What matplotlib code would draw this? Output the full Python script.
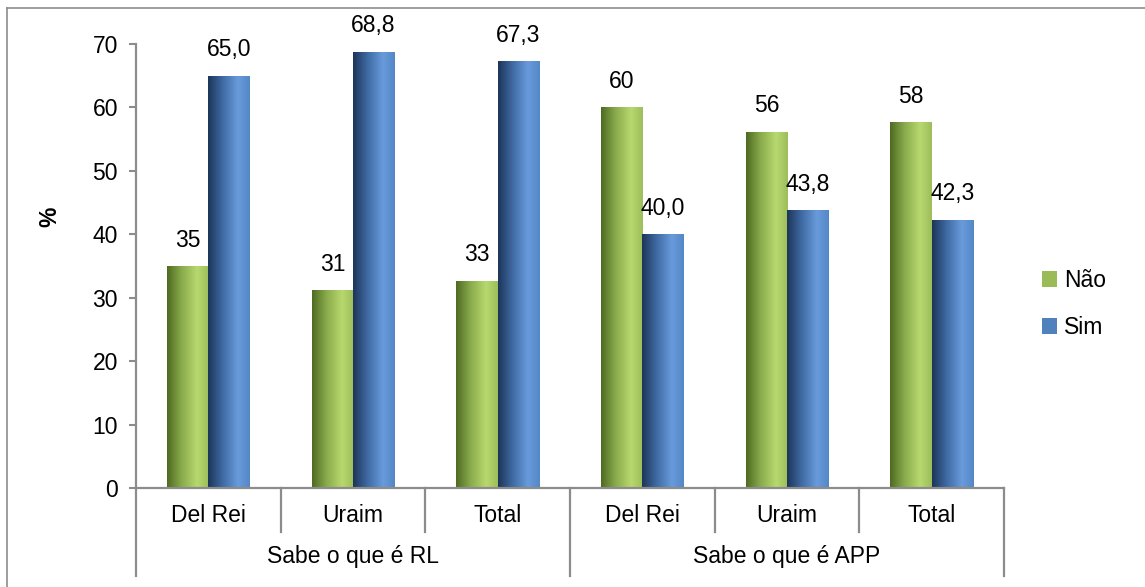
import matplotlib.pyplot as plt
import numpy as np
from matplotlib.colors import LinearSegmentedColormap
from matplotlib.lines import Line2D
from matplotlib.patches import Patch

plt.rcParams["font.family"] = ["Liberation Sans", "DejaVu Sans"]

categories = ["Del Rei", "Uraim", "Total", "Del Rei", "Uraim", "Total"]
groups = ["Sabe o que é RL", "Sabe o que é APP"]
group_sizes = [3, 3]
nao = [35.0, 31.2, 32.7, 60.0, 56.2, 57.7]
sim = [65.0, 68.8, 67.3, 40.0, 43.8, 42.3]
nao_labels = ["35", "31", "33", "60", "56", "58"]
sim_labels = ["65,0", "68,8", "67,3", "40,0", "43,8", "42,3"]

GREEN = "#9bbb59"
BLUE = "#4f81bd"
AXIS_GREY = "#8c8c8c"
FS = 16.5

green_cmap = LinearSegmentedColormap.from_list(
    "g", [(0, "#4e6a22"), (0.35, "#8aab4c"), (0.72, "#b8d86f"), (1, "#9cbd5a")]
)
blue_cmap = LinearSegmentedColormap.from_list(
    "b", [(0, "#1d3558"), (0.35, "#3f6aa3"), (0.72, "#699bdc"), (1, "#5487c6")]
)


def gradient_bars(ax, bars, cmap):
    grad = np.linspace(0, 1, 256).reshape(1, -1)
    for b in bars:
        b.set_facecolor("none")
        x0, y0 = b.get_x(), b.get_y()
        im = ax.imshow(
            grad,
            cmap=cmap,
            aspect="auto",
            extent=[x0, x0 + b.get_width(), y0, y0 + b.get_height()],
            zorder=2,
        )
        im.set_clip_path(b)


fig = plt.figure(figsize=(11.45, 5.87), dpi=100)
ax = fig.add_axes([136 / 1145, 1 - 488 / 587, 868 / 1145, 444 / 587])

x = np.arange(len(categories))
w = 0.285
b1 = ax.bar(x - w / 2, nao, w, color=GREEN, linewidth=0, zorder=2)
b2 = ax.bar(x + w / 2, sim, w, color=BLUE, linewidth=0, zorder=2)
gradient_bars(ax, b1, green_cmap)
gradient_bars(ax, b2, blue_cmap)

for bars, labels in [(b1, nao_labels), (b2, sim_labels)]:
    for b, lab in zip(bars, labels):
        ax.annotate(
            lab,
            (b.get_x() + b.get_width() / 2, b.get_height()),
            xytext=(0, 14),
            textcoords="offset points",
            ha="center",
            va="baseline",
            fontsize=FS,
        )

ax.set_xlim(-0.5, len(categories) - 0.5)
ax.set_ylim(0, 70)
ax.set_yticks(range(0, 71, 10))
ax.tick_params(axis="y", labelsize=FS, length=5, width=1.5, color=AXIS_GREY, pad=8)
ax.set_xticks([])
for s in ["top", "right"]:
    ax.spines[s].set_visible(False)
for s in ["left", "bottom"]:
    ax.spines[s].set_color(AXIS_GREY)
    ax.spines[s].set_linewidth(1.6)

ax.set_ylabel("%", fontsize=FS, fontweight="bold")
ax.yaxis.set_label_coords(-0.086, 0.61)

# two-level category axis
trans = ax.get_xaxis_transform()
for i, c in enumerate(categories):
    ax.text(i, -0.063, c, transform=trans, ha="center", va="center", fontsize=FS)

bounds = np.cumsum([0] + group_sizes)
for i in range(len(categories) + 1):
    bottom = -0.198 if i in bounds else -0.098
    ax.add_line(
        Line2D([i - 0.5, i - 0.5], [0, bottom], transform=trans,
               color=AXIS_GREY, linewidth=1.6, clip_on=False)
    )
for g, start, size in zip(groups, bounds[:-1], group_sizes):
    ax.text(start + (size - 1) / 2, -0.155, g, transform=trans,
            ha="center", va="center", fontsize=FS)

handles = [Patch(facecolor=GREEN, label="Não"), Patch(facecolor=BLUE, label="Sim")]
fig.legend(
    handles=handles,
    loc="center left",
    bbox_to_anchor=(1042 / 1145, 1 - 304 / 587),
    frameon=False,
    fontsize=FS,
    handlelength=0.65,
    handleheight=0.65,
    handletextpad=0.3,
    labelspacing=1.05,
    borderpad=0,
    borderaxespad=0,
)

# outer chart border (only top and left edges visible in the reference)
fig.add_artist(Line2D([7 / 1145, 1], [1 - 8 / 587, 1 - 8 / 587],
                      transform=fig.transFigure, color=AXIS_GREY, linewidth=1.2))
fig.add_artist(Line2D([7 / 1145, 7 / 1145], [0, 1 - 8 / 587],
                      transform=fig.transFigure, color=AXIS_GREY, linewidth=1.2))

fig.savefig("out.png", dpi=100, facecolor="white")
